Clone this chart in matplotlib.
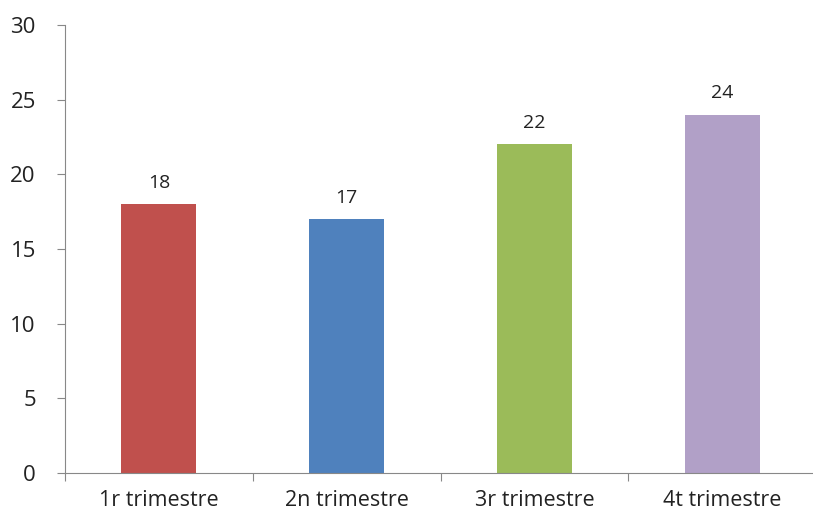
import matplotlib
matplotlib.use("Agg")
import matplotlib.pyplot as plt

categories = ["1r trimestre", "2n trimestre", "3r trimestre", "4t trimestre"]
values = [18, 17, 22, 24]
colors = ["#C0504D", "#4F81BD", "#9BBB59", "#B1A0C7"]
yticks = [0, 5, 10, 15, 20, 25, 30]

plt.rcParams["font.family"] = ["Open Sans", "DejaVu Sans"]

fig = plt.figure(figsize=(8.13, 5.17), dpi=100)
ax = fig.add_axes([65 / 813, 1 - 473 / 517, 751 / 813, 448 / 517])

x = range(len(categories))
bars = ax.bar(x, values, width=0.4, color=colors)
ax.bar_label(bars, labels=[str(v) for v in values], padding=9, fontsize=14, color="#222222")

ax.set_xlim(-0.5, len(categories) - 0.5)
ax.set_ylim(0, 30)
ax.set_yticks(yticks)
ax.tick_params(axis="y", labelsize=16, length=6, color="#888888", labelcolor="#222222", pad=15)

ax.set_xticks([i - 0.5 for i in range(len(categories) + 1)], minor=False)
ax.set_xticks(list(x), minor=True)
ax.set_xticklabels([], minor=False)
ax.set_xticklabels(categories, minor=True)
ax.tick_params(axis="x", which="major", length=6, color="#888888")
ax.tick_params(axis="x", which="minor", length=0, labelsize=15.5, labelcolor="#222222", pad=12)

for s in ["top", "right"]:
    ax.spines[s].set_visible(False)
for s in ["left", "bottom"]:
    ax.spines[s].set_color("#888888")

fig.savefig("out.png", dpi=100)
